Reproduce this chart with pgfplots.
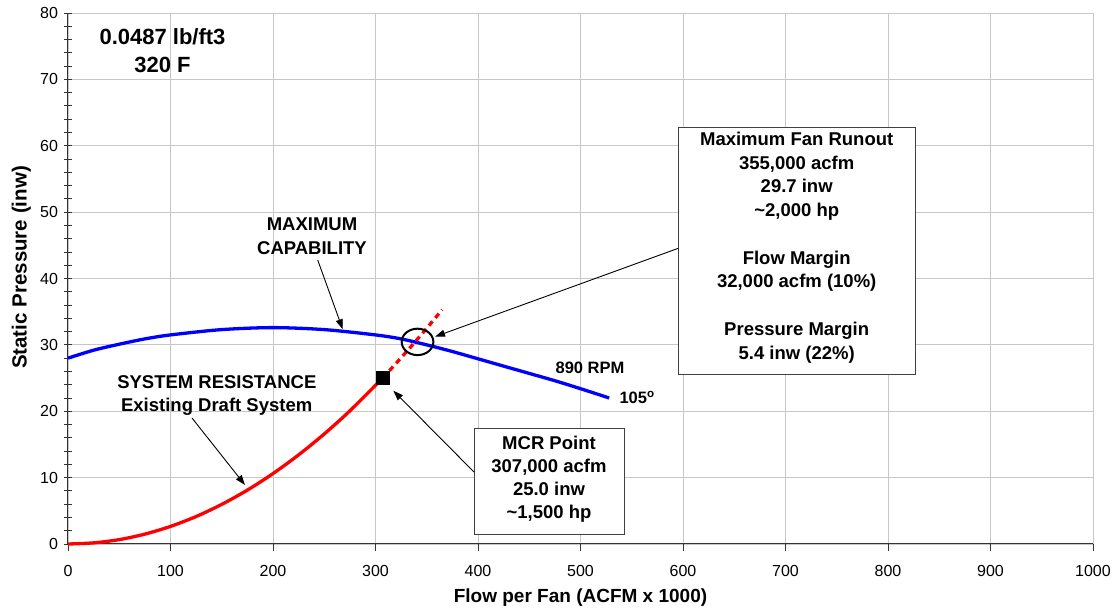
\documentclass[border=0pt]{standalone}
\usepackage{fontspec}
\setmainfont{Liberation Sans}
\usepackage{pgfplots}
\pgfplotsset{compat=1.18}
\usetikzlibrary{arrows.meta}

\begin{document}
\begin{tikzpicture}
\path[use as bounding box] (0,0) rectangle (1117pt,608pt);
\begin{axis}[
  at={(68pt,64pt)}, anchor=south west,
  scale only axis, width=1025pt, height=531pt,
  xmin=0, xmax=1000, ymin=0, ymax=80,
  xtick={0,100,...,1000}, ytick={0,10,...,80},
  minor y tick num=4,
  axis lines=left, axis line style={-, black!80, line width=1pt},
  grid=major, major grid style={draw=black!22, line width=0.9pt},
  xtick align=outside, ytick align=center,
  major tick length=7pt, minor tick length=7pt,
  tick style={black!80, line width=0.9pt},
  /pgf/number format/assume math mode=true,
  /pgf/number format/1000 sep={},
  tick label style={font=\fontsize{16}{19}\selectfont},
  xticklabel style={yshift=-11pt},
  yticklabel style={xshift=-3pt},
  xlabel={Flow per Fan (ACFM x 1000)},
  xlabel style={font=\bfseries\fontsize{19}{23}\selectfont,
    at={(axis description cs:0.5,-0.1017)}, anchor=center},
  ylabel={Static Pressure (inw)},
  ylabel style={font=\bfseries\fontsize{20.5}{24}\selectfont,
    at={(axis description cs:-0.0455,0.5207)}, anchor=center},
  clip=false,
]
% fan curve at 890 rpm
\addplot[blue, line width=3.3pt, smooth] coordinates {
  (0,28.0) (25,29.2) (50,30.1) (75,30.9) (100,31.5) (150,32.3) (200,32.6)
  (250,32.3) (300,31.5) (325,30.9) (350,30.0) (375,29.0) (400,27.9)
  (425,26.8) (450,25.7) (475,24.6) (500,23.4) (528,22.0)};
% system resistance up to the MCR point
\addplot[red, line width=3.3pt, smooth] coordinates {
  (0,0) (25,0.17) (50,0.66) (75,1.49) (100,2.65) (125,4.14) (150,5.97)
  (175,8.12) (200,10.61) (225,13.43) (250,16.58) (275,20.06) (307,25.0)};
% extension of the system curve beyond MCR
\addplot[red, line width=3.3pt, dash pattern=on 5.5pt off 4.5pt] coordinates {
  (307,25.0) (320,27.2) (335,29.8) (350,32.5) (365,35.3)};
% MCR point
\addplot[only marks, mark=square*, mark size=6.5pt, black] coordinates {(307,25.0)};
% runout point highlight
\addplot[only marks, mark=o, mark size=13.2pt,
  mark options={xscale=1.2, line width=2pt, black}] coordinates {(341,30.45)};
\end{axis}

\begin{scope}[x=1pt, y=-1pt, shift={(0pt,608pt)}]
  \tikzset{lbl/.style={font=\bfseries\fontsize{18.5}{22}\selectfont, anchor=base, inner sep=0pt},
           arr/.style={-{Triangle[length=10pt, width=7pt]}, line width=0.9pt, black}}
  \node[font=\bfseries\fontsize{22}{26}\selectfont, anchor=base, inner sep=0pt] at (162.5,45) {0.0487 lb/ft3};
  \node[font=\bfseries\fontsize{22}{26}\selectfont, anchor=base, inner sep=0pt] at (162.5,72.7) {320 F};

  \node[lbl] at (312,230.7) {MAXIMUM};
  \node[lbl] at (312,254.3) {CAPABILITY};
  \node[lbl] at (216.8,388.7) {SYSTEM RESISTANCE};
  \node[lbl] at (216.7,411.7) {Existing Draft System};
  \node[font=\bfseries\fontsize{16.5}{20}\selectfont, anchor=base, inner sep=0pt] at (590,373.3) {890 RPM};
  \node[font=\bfseries\fontsize{16.5}{20}\selectfont, anchor=base west, inner sep=0pt] at (619.3,404) {105\textsuperscript{o}};

  \draw[arr] (317.7,260) -- (342.7,329.3);
  \draw[arr] (192,418) -- (245,485);

  % MCR box
  \draw[black!75, fill=white, line width=1pt] (474,429) rectangle (624,535);
  \node[lbl] at (549,449.3) {MCR Point};
  \node[lbl] at (549,472.3) {307,000 acfm};
  \node[lbl] at (549,495.7) {25.0 inw};
  \node[lbl] at (549,519) {\textasciitilde1,500 hp};
  \draw[arr] (474,472) -- (393.3,390.7);

  % runout box
  \draw[black!75, fill=white, line width=1pt] (678.3,127.3) rectangle (915,375);
  \node[lbl] at (796.7,146) {Maximum Fan Runout};
  \node[lbl] at (796.7,169.3) {355,000 acfm};
  \node[lbl] at (796.7,193) {29.7 inw};
  \node[lbl] at (796.7,216.7) {\textasciitilde2,000 hp};
  \node[lbl] at (796.7,264.3) {Flow Margin};
  \node[lbl] at (796.7,288) {32,000 acfm (10\%)};
  \node[lbl] at (796.7,336) {Pressure Margin};
  \node[lbl] at (796.7,359.3) {5.4 inw (22\%)};
  \draw[arr] (678.3,248.3) -- (435,336.7);
\end{scope}
\end{tikzpicture}
\end{document}
